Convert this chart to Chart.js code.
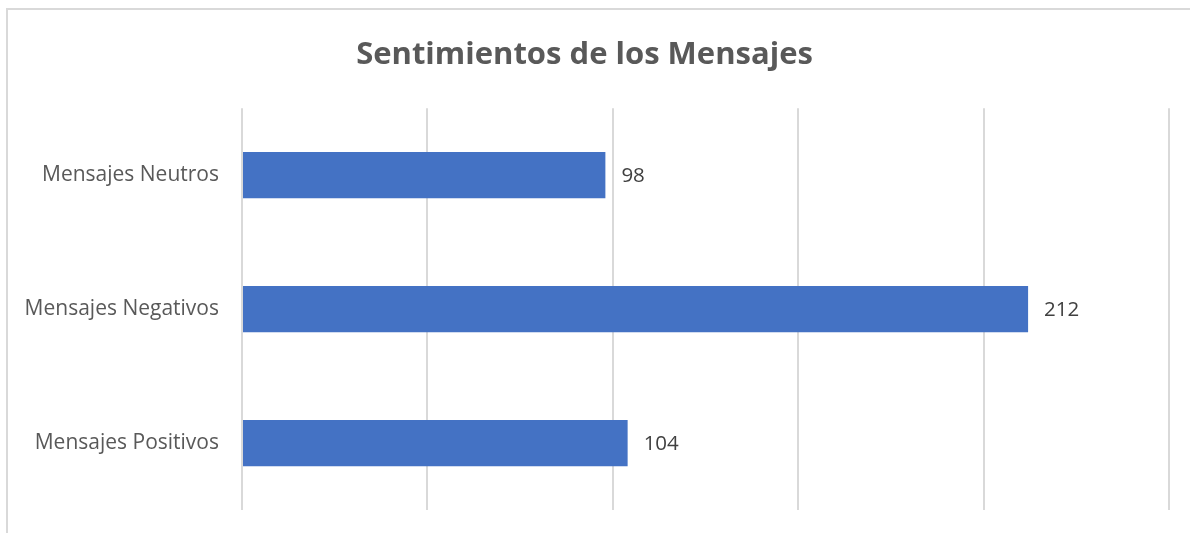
<!DOCTYPE html>
<html>
<head>
<meta charset="utf-8">
<script src="https://cdn.jsdelivr.net/npm/chart.js@4/dist/chart.umd.min.js"></script>
<style>
  html, body { margin: 0; padding: 0; background: #fff; }
  #wrap { position: relative; width: 1190px; height: 533px; overflow: hidden; }
  #frame {
    position: absolute; left: 6px; top: 8px; width: 1200px; height: 560px;
    border-left: 2px solid #d9d9d9; border-top: 2px solid #d9d9d9;
  }
  canvas { position: absolute; left: 0; top: 0; }
</style>
</head>
<body>
<div id="wrap">
  <div id="frame"></div>
  <canvas id="chart" width="1190" height="533"></canvas>
</div>
<script>
// Data (top to bottom as drawn)
const categories = ['Mensajes Neutros', 'Mensajes Negativos', 'Mensajes Positivos'];
const counts     = [98, 212, 104];
const titleText  = 'Sentimientos de los Mensajes';
const axisMax    = 250;
const axisStep   = 50;

const FONT = "'Open Sans', 'Liberation Sans', sans-serif";

// Draws the value to the right of each bar (no datalabels plugin available)
const valueLabels = {
  id: 'valueLabels',
  afterDatasetsDraw(chart) {
    const ctx = chart.ctx;
    const meta = chart.getDatasetMeta(0);
    ctx.save();
    ctx.font = '20.5px ' + FONT;
    ctx.fillStyle = '#404040';
    ctx.textAlign = 'left';
    ctx.textBaseline = 'middle';
    meta.data.forEach((bar, i) => {
      ctx.fillText(String(counts[i]), bar.x + 16, bar.y + 1);
    });
    ctx.restore();
  }
};

new Chart(document.getElementById('chart'), {
  type: 'bar',
  data: {
    labels: categories,
    datasets: [{
      data: counts,
      backgroundColor: '#4472C4',
      borderWidth: 0,
      categoryPercentage: 1,
      barPercentage: 0.345,
    }],
  },
  options: {
    indexAxis: 'y',
    responsive: false,
    animation: false,
    layout: { padding: { top: 0, right: 21, bottom: 23, left: 0 } },
    plugins: {
      legend: { display: false },
      tooltip: { enabled: false },
      title: {
        display: true,
        text: titleText,
        color: '#595959',
        font: { family: FONT, size: 31, weight: 'bold', lineHeight: 1.2 },
        padding: { top: 37, bottom: 34 },
      },
    },
    scales: {
      x: {
        min: 0,
        max: axisMax,
        ticks: { display: false, stepSize: axisStep },
        grid: { color: '#d9d9d9', lineWidth: 2, drawTicks: false },
        border: { display: false },
      },
      y: {
        grid: { display: false, drawTicks: false },
        border: { display: false },
        ticks: {
          color: '#595959',
          padding: 23,
          font: { family: FONT, size: 21 },
        },
        afterFit: (scale) => {
          // fixed axis width; drop the label overhang so the plot keeps its height
          scale.width = 242;
          scale.paddingTop = 0;
          scale.paddingBottom = 0;
        },
      },
    },
  },
  plugins: [valueLabels],
});
</script>
</body>
</html>
